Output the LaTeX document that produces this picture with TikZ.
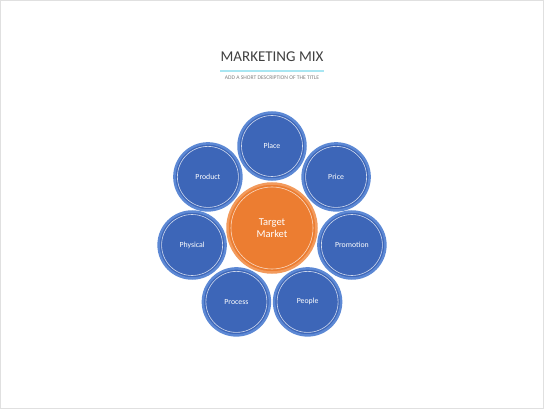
\documentclass[tikz,border=0pt]{standalone}
\usepackage{fontspec}
\setmainfont{Carlito}
\usepackage{tikz}

\definecolor{mixblue}{HTML}{3D66B8}
\definecolor{mixring}{HTML}{5C88D4}
\definecolor{mixorange}{HTML}{EC7D31}
\definecolor{mixorring}{HTML}{F29A5C}
\definecolor{titlegray}{HTML}{404040}
\definecolor{subgray}{HTML}{7F7F7F}
\definecolor{titleline}{HTML}{A8E6F2}

\tikzset{
	mixbox/.style={circle,fill=mixblue,draw=mixring,line width=2.5pt,
		minimum size=67pt,inner sep=0pt,text=white,font=\fontsize{7.8}{9}\selectfont,
		path picture={\draw[white!75!mixblue,line width=.6pt]
			(path picture bounding box.center) circle (30.5pt);}},
	marketbox/.style={circle,fill=mixorange,draw=mixorring,line width=2.5pt,
		minimum size=89pt,inner sep=0pt,text=white,align=center,
		font=\fontsize{10.5}{12.5}\selectfont,
		path picture={\draw[white!70!mixorange,line width=.6pt]
			(path picture bounding box.center) circle (41pt);}}
}

\begin{document}
\begin{tikzpicture}[x=1pt,y=-1pt]
	\useasboundingbox (0,0) rectangle (544,409);
	\draw[black!12,line width=1pt] (0.5,0.5) rectangle (543.5,408.5);
	% title
	\node[text=titlegray,font=\fontsize{15}{18}\selectfont] (title) at (272,57) {MARKETING MIX};
	\draw[titleline,line width=1.2pt] (220,71) -- (324,71);
	\node[text=subgray,font=\fontsize{5.6}{6.5}\selectfont] (subtitle) at (272,77.5) {ADD A SHORT DESCRIPTION OF THE TITLE};
	% the seven circles
	\node[mixbox] (place) at (272,146) {Place};
	\node[mixbox] (price) at (336.1,176.9) {Price};
	\node[mixbox] (promotion) at (351.9,245) {Promotion};
	\node[mixbox] (people) at (307.6,301.9) {People};
	\node[mixbox] (process) at (236.4,301.9) {Process};
	\node[mixbox] (physical) at (192.1,245) {Physical};
	\node[mixbox] (product) at (207.9,176.9) {Product};
	% centre
	\node[marketbox] (market) at (272,228) {Target\\Market};
\end{tikzpicture}
\end{document}
